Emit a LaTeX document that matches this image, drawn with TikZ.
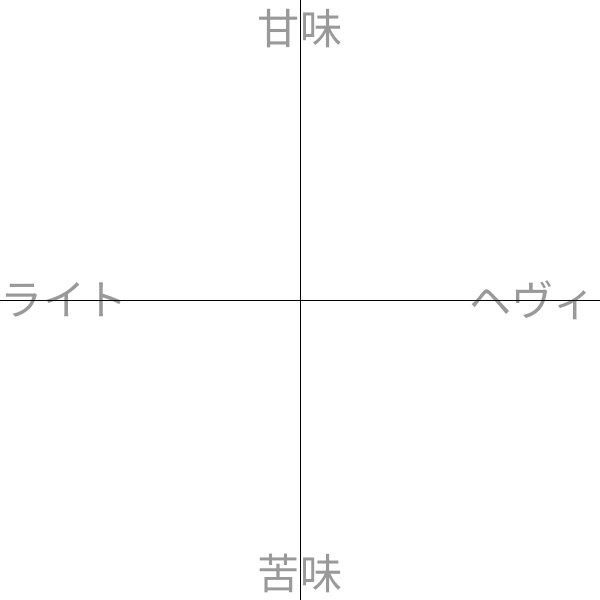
\documentclass[tikz,border=0pt]{standalone}
\usepackage{fontspec}
\newfontfamily\jpfont{Noto Sans CJK JP}
\usepackage{tikz}
\usetikzlibrary{positioning}
\definecolor{axislabel}{HTML}{999999}

\begin{document}
\begin{tikzpicture}[axlabel/.style={text=axislabel,inner sep=0pt,font=\jpfont\fontsize{20pt}{20pt}\selectfont}]
  \useasboundingbox (-5,-5) rectangle (5,5);
  % axis ends
  \coordinate (top) at (0,5);
  \coordinate (bottom) at (0,-5);
  \coordinate (left) at (-5,0);
  \coordinate (right) at (5,0);
  % labels
  \node[axlabel] (sweet) at (0,4.53) {甘味};
  \node[axlabel] (bitter) at (0,-4.55) {苦味};
  \node[axlabel] (light) at (-3.93,0.0) {ライト};
  \node[axlabel] (heavy) at (3.88,0.0) {ヘヴィ};
  % axes
  \draw[line width=0.4pt] (top)--(bottom);
  \draw[line width=0.4pt] (left)--(right);
\end{tikzpicture}
\end{document}
